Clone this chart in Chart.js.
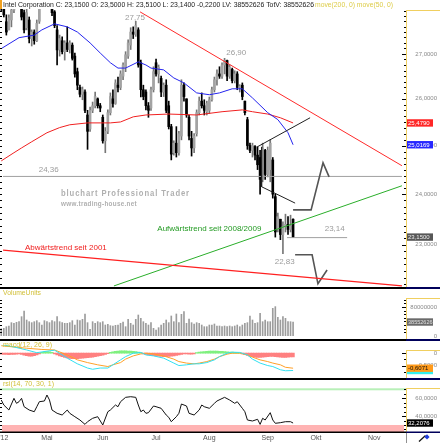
<!DOCTYPE html>
<html><head><meta charset="utf-8">
<script src="https://cdn.jsdelivr.net/npm/chart.js@4.4.1/dist/chart.umd.min.js"></script>
<style>
html,body{margin:0;padding:0;background:#fff;overflow:hidden}
#wrap{position:relative;width:440px;height:443px;background:#fff;overflow:hidden}
canvas{position:absolute;left:0;display:block}
.sep{position:absolute;left:0;width:406px;height:2px;background:#000}
.sepR{position:absolute;left:406px;width:34px;height:2px;background:#00005a}
</style></head><body><div id="wrap">
<canvas id="cMain" width="440" height="287" style="top:0"></canvas>
<canvas id="cVol" width="440" height="50" style="top:289px"></canvas>
<canvas id="cMacd" width="440" height="37" style="top:341px"></canvas>
<canvas id="cRsi" width="440" height="63" style="top:380px"></canvas>
<div class="sep" style="top:287px"></div><div class="sepR" style="top:287px"></div>
<div class="sep" style="top:339px"></div><div class="sepR" style="top:339px"></div>
<div class="sep" style="top:378px"></div><div class="sepR" style="top:378px"></div>
</div>
<script>
// ---------------- DATA ----------------
const monthLabels = ["'12","Mai","Jun","Jul","Aug","Sep","Okt","Nov"];
const monthIdx = [1,18,40,61,82,105,124,147];
const priceTickLabels = [23,24,25,26,27];
const volTickLabels = [0,80];
const macdTickLabels = [0,-0.5];
const rsiTickLabels = [40,60];

const opens = [28.3,28.2,27.74,27.55,27.78,28.01,28.3,28.5,28.3,27.95,
27.6,27.78,27.35,27.5,27.3,27.75,28.1,28.4,28.5,28.45,
28.3,27.97,27.55,27.1,27.3,27.05,27.25,27.1,27.2,26.95,
26.6,26.25,26.1,26.15,25.65,25.35,25.75,25.85,26.0,25.85,
25.6,25.1,25.3,25.7,26.0,25.9,26.3,26.25,26.5,26.7,
26.95,27.2,27.5,27.45,27.55,26.8,26.2,26.15,25.85,25.8,
26.2,26.8,26.55,26.45,26.15,26.3,25.85,25.4,24.85,25.05,
24.85,25.2,26.3,26.0,25.6,25.15,24.95,25.25,25.7,25.95,
25.85,25.72,25.75,25.98,26.2,26.42,26.55,26.5,26.75,26.85,
26.5,26.65,26.4,26.55,26.25,26.3,25.95,25.55,25.0,24.9,
24.98,24.8,24.75,24.3,24.9,24.4,24.5,24.7,23.95,23.3,
23.5,23.2,23.35,23.4,23.3,23.5];
const highs = [28.5,28.4,27.9,27.9,28.06,28.3,28.7,28.7,28.4,28.01,
28.06,27.85,27.55,27.55,27.78,28.1,28.5,28.6,28.8,28.6,
28.4,28.0,27.65,27.43,27.39,27.3,27.62,27.3,27.25,27.02,
26.68,26.3,26.26,26.2,25.75,25.82,25.93,26.15,26.02,25.9,
25.65,25.38,25.76,26.13,26.2,26.42,26.48,26.62,26.8,27.05,
27.32,27.6,27.62,27.75,27.6,26.86,26.3,26.2,25.92,26.26,
26.71,26.88,26.75,26.5,26.35,26.42,25.95,25.45,25.1,25.4,
25.3,26.42,26.35,26.0,25.65,25.3,25.25,25.76,26.04,26.13,
25.98,25.95,26.04,26.26,26.48,26.64,26.71,26.8,26.9,26.86,
26.75,26.68,26.62,26.6,26.31,26.35,25.95,25.6,25.05,25.05,
25.0,24.97,24.9,25.05,24.92,24.97,25.12,24.75,24.0,23.62,
23.5,23.45,23.6,23.55,23.58,23.51];
const lows = [28.0,27.85,27.43,27.55,27.62,27.95,28.2,28.3,27.78,27.48,
27.55,27.25,27.18,27.22,27.28,27.7,28.05,28.3,28.35,28.3,
27.88,27.6,26.75,26.95,27.0,26.86,27.05,27.02,26.86,26.48,
26.2,26.04,25.98,25.7,24.92,25.3,25.7,25.8,25.8,25.72,
25.05,24.85,25.25,25.65,25.82,25.88,26.15,26.2,26.42,26.6,
26.9,27.1,27.35,27.4,26.7,26.04,25.98,25.76,25.6,25.75,
26.15,26.5,26.35,26.05,26.05,25.7,25.35,24.7,24.8,24.76,
24.8,25.12,25.95,25.6,25.12,24.78,24.85,25.2,25.65,25.8,
25.65,25.65,25.68,25.95,26.15,26.3,26.45,26.45,26.55,26.4,
26.45,26.35,26.35,26.2,26.15,25.98,25.65,24.92,24.85,24.76,
24.7,24.5,24.0,24.25,24.3,24.35,24.25,23.92,23.15,23.25,
23.1,22.83,23.25,23.2,23.25,23.14];
const closes = [28.1,27.9,27.5,27.83,28.01,28.16,28.5,28.4,27.85,27.55,
27.95,27.35,27.5,27.3,27.7,28.05,28.4,28.5,28.45,28.35,
27.95,27.65,27.09,27.35,27.05,27.25,27.1,27.25,26.9,26.55,
26.3,26.1,26.2,25.75,25.3,25.75,25.85,26.05,25.85,25.8,
25.1,25.3,25.7,26.05,25.9,26.35,26.25,26.55,26.75,26.98,
27.25,27.5,27.45,27.65,26.75,26.2,26.05,25.85,25.75,26.2,
26.6,26.55,26.7,26.15,26.3,25.75,25.4,24.82,25.05,24.85,
25.25,26.3,26.05,25.65,25.2,24.95,25.2,25.7,25.95,25.85,
25.75,25.9,25.98,26.2,26.42,26.55,26.5,26.75,26.85,26.5,
26.7,26.4,26.55,26.25,26.28,26.05,25.7,25.0,24.9,25.0,
24.8,24.6,24.3,24.95,24.4,24.9,25.05,24.0,23.25,23.55,
23.2,23.35,23.4,23.3,23.37,23.15];
// volume in millions
const vols = [20.0,21.1,25.7,27.6,36.8,34.9,37.7,39.5,53.3,69.0,
44.1,39.5,36.8,39.5,42.3,36.8,30.3,42.3,39.5,36.8,
42.3,39.5,53.3,39.5,36.8,34.9,34.9,36.8,42.3,30.3,
44.1,42.3,46.0,60.7,36.8,18.4,39.5,34.9,39.5,36.8,
39.5,30.3,32.2,28.5,27.6,29.4,30.3,34.9,38.6,25.7,
46.0,34.9,30.3,46.0,57.9,48.8,39.5,34.9,30.3,36.8,
21.1,16.6,23.0,30.3,34.9,44.1,36.8,55.2,39.5,60.7,
36.8,59.8,67.1,34.9,46.9,36.8,33.1,36.8,34.9,30.3,
25.7,25.7,30.3,30.3,33.1,27.6,27.6,25.7,27.6,25.7,
27.6,25.7,27.6,30.3,25.7,30.3,34.9,36.8,55.2,44.1,
34.9,36.8,62.5,39.5,44.1,39.5,39.5,76.3,81.0,51.5,
44.1,53.3,48.8,39.5,39.5,38.552626];

const ma50Idx = [0,7,13,16,21,26,30,35,39,43,46,49,54,57,59,64,68,72,77,82,86,91,95,99,105,109,113,115];
const ma50Val = [27.12,27.37,27.43,27.55,27.69,27.62,27.50,27.25,27.02,26.80,26.68,26.68,26.82,26.75,26.68,26.64,26.46,26.35,26.13,26.09,26.13,26.22,26.22,26.02,25.70,25.55,25.27,25.0169];
const ma200Idx = [0,5,8,12,18,23,27,34,39,43,47,52,57,66,77,87,95,99,105,110,115];
const ma200Val = [24.68,24.85,24.95,25.08,25.27,25.38,25.44,25.48,25.48,25.48,25.50,25.61,25.65,25.67,25.65,25.72,25.76,25.72,25.67,25.59,25.479];

const trendDownIdx = [54.7,157.9], trendDownVal = [27.97,24.58];
const trend2001Idx = [0.7,157.9], trend2001Val = [22.90,22.22];
const trendUpIdx = [44.4,157.9], trendUpVal = [22.22,24.17];
const level1Idx = [0.7,157.9], level1Val = [24.36,24.36];
const level2Idx = [112.6,136.3], level2Val = [23.14,23.14];
const chanTopIdx = [100.8,121.7], chanTopVal = [24.97,25.59];
const chanBotIdx = [102.6,102.6,115.8], chanBotVal = [24.97,24.15,23.82];
const arrowUpIdx = [115.0,122.1,126.8,129.2], arrowUpVal = [23.685,23.685,24.64,24.35];
const arrowDnIdx = [115.8,122.5,124.8,128.4], arrowDnVal = [22.81,22.81,22.26,22.52];

const macdIdx = [0,5,10,14,18,21,26,30,34,36,39,42,44,47,49,52,55,57,60,64,68,70,73,76,78,81,84,86,89,91,94,97,99,102,105,107,110,112,115];
const macdVal = [0.35,0.25,0.13,0.02,0.08,0.12,-0.20,-0.43,-0.60,-0.65,-0.60,-0.60,-0.47,-0.27,-0.14,0.0,0.03,-0.07,-0.11,-0.20,-0.40,-0.50,-0.47,-0.43,-0.43,-0.38,-0.27,-0.14,0.0,0.04,0.03,-0.07,-0.24,-0.40,-0.50,-0.54,-0.67,-0.71,-0.70];
const sigIdx = [0,10,16,21,26,30,34,38,42,44,47,49,52,55,57,60,64,68,70,73,76,78,81,84,86,89,91,94,97,99,102,105,107,110,112,115];
const sigVal = [0.3,0.2,0.15,0.13,-0.07,-0.27,-0.38,-0.47,-0.54,-0.47,-0.38,-0.24,-0.11,-0.03,0.0,-0.03,-0.11,-0.24,-0.34,-0.40,-0.43,-0.40,-0.34,-0.24,-0.14,-0.04,0.0,0.0,-0.07,-0.16,-0.27,-0.34,-0.40,-0.47,-0.57,-0.6071];
const hist = [-0.04,-0.05,-0.05,-0.06,-0.05,-0.05,-0.04,-0.03,
-0.05,-0.08,-0.10,-0.12,-0.12,-0.10,-0.07,-0.03,
0.03,0.05,0.06,0.05,0.03,
-0.03,-0.07,-0.11,-0.14,-0.17,-0.19,-0.21,-0.22,-0.22,-0.22,-0.21,-0.2,-0.19,-0.18,-0.17,-0.16,-0.14,-0.12,-0.10,-0.08,-0.05,-0.02,
0.03,0.05,0.07,0.08,0.09,0.09,0.09,0.08,0.08,0.07,0.06,0.04,0.02,
-0.03,-0.05,-0.07,-0.09,-0.10,-0.11,-0.12,-0.13,-0.14,-0.14,-0.13,-0.12,-0.11,-0.09,-0.07,-0.05,-0.03,
-0.03,-0.04,-0.04,-0.03,
0.02,0.04,0.05,0.06,0.07,0.08,0.08,0.08,0.08,0.07,0.07,0.06,0.05,0.04,0.04,0.03,0.02,0.01,
-0.03,-0.06,-0.09,-0.12,-0.14,-0.16,-0.17,-0.17,-0.16,-0.15,-0.14,-0.13,-0.13,-0.14,-0.15,-0.16,-0.17,-0.17,-0.16,-0.15,-0.15];

const rsiIdx = [0,1,3,5,6,7,8,9,11,13,14,15,17,18,19,20,22,24,26,27,29,31,33,34,36,38,40,42,43,45,46,47,49,51,53,54,55,56,57,58,60,61,63,65,66,67,69,70,71,73,74,76,78,79,80,82,84,85,88,90,92,93,95,96,97,99,101,102,103,104,106,107,108,110,112,114,115];
const rsiVal = [58.0,52.4,46.8,59.9,54.3,56.1,59.9,50.5,46.8,44.9,50.5,56.1,56.9,63.6,58.0,46.8,43.1,41.2,46.8,43.1,39.3,35.6,30.7,33.7,37.5,39.3,30.0,44.9,46.8,52.4,50.5,56.1,61.0,61.7,61.0,52.4,44.9,46.8,43.1,43.8,51.3,50.5,48.7,41.2,38.6,33.7,39.3,43.1,53.5,51.3,43.1,41.2,46.8,52.4,50.5,48.7,54.3,56.9,61.0,58.0,54.3,56.1,48.7,44.9,35.6,34.5,36.4,30.7,37.5,35.6,43.8,35.6,31.9,32.6,33.7,33.7,32.2076];

const notes = [
  {t:'27,75', i:52.7, v:27.82},
  {t:'26,90', i:92.6, v:27.03},
  {t:'24,36', i:18.7, v:24.49},
  {t:'23,14', i:131.4, v:23.31},
  {t:'22,83', i:111.7, v:22.68}
];
const trendNotes = [
  {t:'Aufwärtstrend seit 2008/2009', i:61.5, v:23.31, c:'#229a22', w:106},
  {t:'Abwärtstrend seit 2001', i:9.35, v:22.95, c:'#f01c1c', w:83}
];

// ---------------- HELPERS ----------------
Chart.defaults.font.family = '"Liberation Sans", Arial, sans-serif';
const N = closes.length;
const last = a => a[a.length - 1];
const fmt4 = v => v.toFixed(4).replace('.', ',');
const idx = closes.map((_, i) => i);
const up = idx.map(i => closes[i] >= opens[i]);
const pts = (xs, ys) => xs.map((x, k) => ({x, y: ys[k]}));
const lineDs = (xs, ys, color, width, order) => ({type:'line', data: pts(xs, ys), borderColor: color, borderWidth: width, pointRadius: 0, tension: 0, fill: false, order: order});
const xAxis = () => ({type:'linear', min:-0.5, max:159.5, display:false, offset:false});
const baseOpts = (pad, y) => ({responsive:false, animation:false, events:[], layout:{padding:pad},
  scales:{x:xAxis(), y:y}, plugins:{legend:{display:false}, tooltip:{enabled:false}, title:{display:false}}});

function rightAxis(chart, o) {
  const ctx = chart.ctx, ys = chart.scales.y, a = chart.chartArea, X = a.right;
  ctx.save();
  ctx.strokeStyle = '#f0cf60'; ctx.lineWidth = 1;
  ctx.beginPath();
  ctx.moveTo(X + 0.5, o.frameTop); ctx.lineTo(X + 0.5, chart.height);
  ctx.moveTo(X, o.frameTop + 0.5); ctx.lineTo(chart.width, o.frameTop + 0.5);
  ctx.stroke();
  ctx.strokeStyle = '#000';
  for (let v = o.t0; v <= o.t1 + 1e-9; v += o.step) {
    const py = Math.round(ys.getPixelForValue(v)) + 0.5;
    if (py < o.frameTop + 1 || py > a.bottom - 0.5) continue;
    const major = o.majors.some(m => Math.abs(m - v) < 1e-6);
    ctx.beginPath();
    ctx.moveTo(X - (major ? 4 : 2), py); ctx.lineTo(X, py);
    ctx.moveTo(a.left, py); ctx.lineTo(a.left + 2, py);
    ctx.stroke();
  }
  ctx.font = '6px "Liberation Sans"'; ctx.textAlign = 'right'; ctx.textBaseline = 'middle';
  ctx.fillStyle = '#8a8a8a';
  o.labels.forEach(l => ctx.fillText(l.text, 437, ys.getPixelForValue(l.v)));
  o.boxes.forEach(b => {
    const py = ys.getPixelForValue(b.v);
    ctx.fillStyle = b.bg; ctx.fillRect(X + 1, py - 3.7, 26, 7.4);
    if (b.text) { ctx.fillStyle = b.fg; ctx.textAlign = 'left'; ctx.fillText(b.text, X + 2, py + 0.3, 24.5); }
  });
  ctx.restore();
}
function panelLabel(chart, text, w) {
  const ctx = chart.ctx; ctx.save();
  ctx.font = '7px "Liberation Sans"'; ctx.fillStyle = '#d2c03a'; ctx.textAlign = 'left'; ctx.textBaseline = 'middle';
  ctx.fillText(text, 3, 4.5, w); ctx.restore();
}

// ---------------- MAIN PRICE PANEL ----------------
const mainDecor = {
  id:'mainDecor',
  beforeDatasetsDraw(chart) {
    const ctx = chart.ctx; ctx.save();
    ctx.fillStyle = '#b0b0b0'; ctx.textAlign = 'left'; ctx.textBaseline = 'middle';
    ctx.letterSpacing = '1px';
    ctx.font = 'bold 8.5px "Liberation Sans"'; ctx.fillText('bluchart Professional Trader', 61, 193.5, 129);
    ctx.letterSpacing = '0.3px';
    ctx.font = 'bold 6.5px "Liberation Sans"'; ctx.fillText('www.trading-house.net', 61, 204.5, 76);
    ctx.letterSpacing = '0px';
    ctx.restore();
  },
  afterDatasetsDraw(chart) {
    const ctx = chart.ctx, xs = chart.scales.x, ys = chart.scales.y;
    ctx.save();
    ctx.textBaseline = 'middle';
    ctx.font = '8px "Liberation Sans"'; ctx.fillStyle = '#9c9c9c'; ctx.textAlign = 'center';
    notes.forEach(n => ctx.fillText(n.t, xs.getPixelForValue(n.i), ys.getPixelForValue(n.v)));
    ctx.textAlign = 'left';
    trendNotes.forEach(n => { ctx.fillStyle = n.c; ctx.fillText(n.t, xs.getPixelForValue(n.i), ys.getPixelForValue(n.v), n.w); });
    // title strip
    const volTxt = String(Math.round(last(vols) * 1e6));
    const t1 = 'Intel Corporation C: ' + fmt4(last(closes)) + ' O: ' + fmt4(last(opens)) + ' H: ' + fmt4(last(highs)) +
      ' L: ' + fmt4(last(lows)) + ' ' + fmt4(closes[N-1] - closes[N-2]) + ' LV: ' + volTxt + ' TotV: ' + volTxt;
    ctx.fillStyle = '#fff'; ctx.fillRect(0, 0, 395, 9);
    ctx.fillStyle = '#f0a020'; ctx.fillRect(0, 0, 2, 9);
    ctx.font = '7.5px "Liberation Sans"'; ctx.fillStyle = '#222';
    ctx.fillText(t1, 3, 4.6, 311);
    ctx.fillStyle = '#ddcc48'; ctx.fillText('move(200, 0) move(50, 0)', 315, 4.6, 78);
    ctx.restore();
    rightAxis(chart, {frameTop:10, t0:22.25, t1:28.25, step:0.125, majors:priceTickLabels,
      labels: priceTickLabels.map(v => ({v, text: fmt4(v)})),
      boxes: [
        {v: last(ma200Val), bg:'#ff2626', fg:'#fff', text: fmt4(last(ma200Val))},
        {v: last(ma50Val), bg:'#2626ff', fg:'#fff', text: fmt4(last(ma50Val))},
        {v: last(closes), bg:'#575757', fg:'#eee', text: fmt4(last(closes))}
      ]});
  }
};

new Chart(document.getElementById('cMain'), {
  type:'bar',
  data:{datasets:[
    lineDs(trendDownIdx, trendDownVal, '#ff2a2a', 1, 0),
    lineDs(trend2001Idx, trend2001Val, '#ff2020', 1.3, 0),
    lineDs(trendUpIdx, trendUpVal, '#2aae2a', 1, 0),
    lineDs(level1Idx, level1Val, '#a0a0a0', 1, 2),
    lineDs(level2Idx, level2Val, '#a0a0a0', 1, 2),
    lineDs(chanTopIdx, chanTopVal, '#202020', 1, 0),
    lineDs(chanBotIdx, chanBotVal, '#202020', 1, 0),
    lineDs(arrowUpIdx, arrowUpVal, '#555', 1.6, 0),
    lineDs(arrowDnIdx, arrowDnVal, '#555', 1.6, 0),
    lineDs(ma50Idx, ma50Val, '#2424ee', 1, 1),
    lineDs(ma200Idx, ma200Val, '#f02020', 1, 1),
    {type:'bar', data: idx.map(i => ({x:i, y:[lows[i], highs[i]]})), backgroundColor: idx.map(i => up[i] ? '#777' : '#000'),
      barThickness:1, grouped:false, order:6},
    {type:'bar', data: idx.map(i => ({x:i, y:[Math.min(opens[i], closes[i]), Math.max(opens[i], closes[i])]})),
      backgroundColor: idx.map(i => up[i] ? '#a3a3a3' : '#000'), barThickness:2, minBarLength:1, grouped:false, order:5}
  ]},
  options: baseOpts({left:0, right:34, top:0, bottom:0}, {type:'logarithmic', min:22.2, max:28.25, display:false, bounds:'data'}),
  plugins:[mainDecor]
});

// ---------------- VOLUME PANEL ----------------
new Chart(document.getElementById('cVol'), {
  type:'bar',
  data:{datasets:[{data: idx.map(i => ({x:i, y:vols[i]})), backgroundColor:'#9c9c9c', barThickness:1, grouped:false}]},
  options: baseOpts({left:0, right:34, top:7, bottom:3}, {type:'linear', min:0, max:110.3, display:false}),
  plugins:[{id:'volDecor', afterDatasetsDraw(chart) {
    panelLabel(chart, 'VolumeUnits', 38);
    rightAxis(chart, {frameTop:9, t0:0, t1:110, step:10, majors:volTickLabels,
      labels: [{v:0, text:'0'}, {v:80, text:'80000000'}],
      boxes: [{v:last(vols), bg:'#6a6a6a', fg:'#e0e0e0', text:String(Math.round(last(vols) * 1e6))}]});
  }}]
});

// ---------------- MACD PANEL ----------------
new Chart(document.getElementById('cMacd'), {
  type:'bar',
  data:{datasets:[
    lineDs(macdIdx, macdVal, '#33e0f0', 1, 0),
    lineDs(sigIdx, sigVal, '#ffa028', 1, 0),
    {type:'bar', data: idx.map(i => ({x:i, y:hist[i]})), backgroundColor: idx.map(i => hist[i] >= 0 ? '#7ff07f' : '#ff8080'),
      barThickness:2.6, grouped:false, order:3}
  ]},
  options: baseOpts({left:0, right:34, top:4, bottom:1.3}, {type:'linear', min:-0.95, max:0.33, display:false}),
  plugins:[{id:'macdDecor', afterDatasetsDraw(chart) {
    panelLabel(chart, 'macd(12, 26, 9)', 49);
    rightAxis(chart, {frameTop:9, t0:-0.75, t1:0.25, step:0.25, majors:macdTickLabels,
      labels: macdTickLabels.map(v => ({v, text: v === 0 ? '0' : fmt4(v)})),
      boxes: [{v:last(macdVal), bg:'#33eeee', fg:'#000', text:''},
              {v:last(sigVal), bg:'#ff9a1a', fg:'#111', text:fmt4(last(sigVal))}]});
  }}]
});

// ---------------- RSI PANEL ----------------
new Chart(document.getElementById('cRsi'), {
  type:'bar',
  data:{datasets:[lineDs(rsiIdx, rsiVal, '#111', 1, 0)]},
  options: baseOpts({left:0, right:34, top:1, bottom:11}, {type:'linear', min:22.16, max:79.3, display:false}),
  plugins:[{id:'rsiDecor',
    beforeDatasetsDraw(chart) {
      const ctx = chart.ctx, a = chart.chartArea, ys = chart.scales.y;
      ctx.save();
      const y30 = ys.getPixelForValue(30);
      ctx.fillStyle = '#ffb3b3'; ctx.fillRect(a.left + 2, y30, a.right - a.left - 4, a.bottom - y30);
      ctx.fillStyle = '#b8f0b8'; ctx.fillRect(a.left, ys.getPixelForValue(70) - 1, a.right - a.left, 2);
      ctx.restore();
    },
    afterDatasetsDraw(chart) {
      const ctx = chart.ctx, a = chart.chartArea, xs = chart.scales.x;
      panelLabel(chart, 'rsi(14, 70, 30, 1)', 51);
      rightAxis(chart, {frameTop:8, t0:25, t1:75, step:5, majors:rsiTickLabels,
        labels: rsiTickLabels.map(v => ({v, text: fmt4(v)})),
        boxes: [{v:last(rsiVal), bg:'#000', fg:'#fff', text:fmt4(last(rsiVal))}]});
      ctx.save();
      ctx.fillStyle = '#000'; ctx.fillRect(0, a.bottom - 0.5, a.right, 1.5);
      ctx.fillStyle = '#00005a'; ctx.fillRect(a.right, a.bottom - 0.5, chart.width - a.right, 1.5);
      ctx.fillStyle = '#fff'; ctx.fillRect(a.right + 1, a.bottom + 1, chart.width - a.right - 1, chart.height - a.bottom);
      ctx.fillStyle = '#909090'; ctx.fillRect(a.right, a.bottom + 1, 1, chart.height - a.bottom);
      ctx.font = '7px "Liberation Sans"'; ctx.fillStyle = '#555'; ctx.textAlign = 'center'; ctx.textBaseline = 'middle';
      monthLabels.forEach((m, k) => ctx.fillText(m, xs.getPixelForValue(monthIdx[k]), a.bottom + 5.7));
      // small icon in the corner box
      ctx.strokeStyle = '#111'; ctx.lineWidth = 1.2;
      ctx.beginPath(); ctx.moveTo(419, 61.5); ctx.lineTo(425.5, 55.5); ctx.stroke();
      ctx.fillStyle = '#1e3cdc';
      ctx.beginPath(); ctx.moveTo(427, 54.3); ctx.lineTo(429.6, 57); ctx.lineTo(427, 59.6); ctx.lineTo(424.4, 57); ctx.closePath(); ctx.fill();
      ctx.restore();
    }}]
});
</script>
</body></html>
